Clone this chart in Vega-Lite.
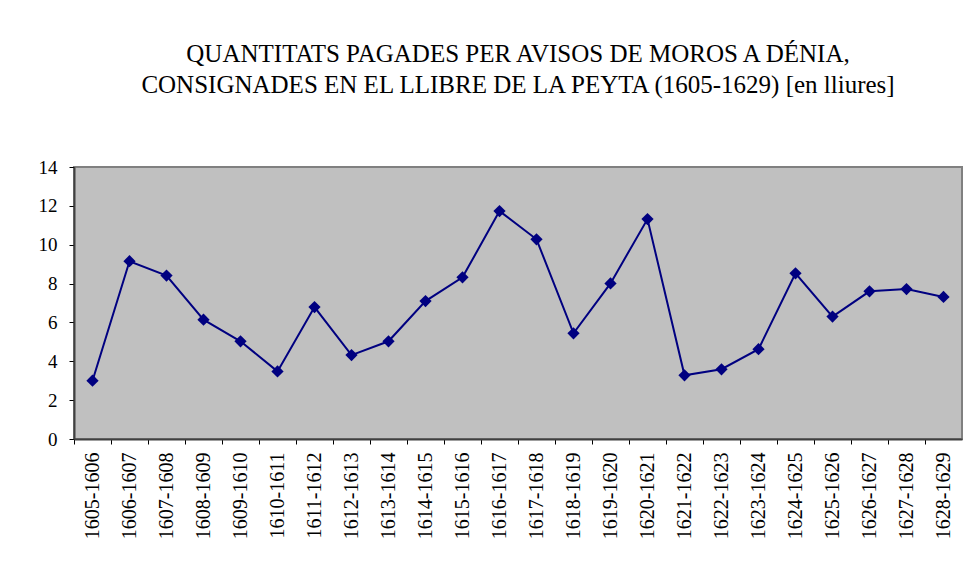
{
  "$schema": "https://vega.github.io/schema/vega-lite/v6.json",
  "width": 888,
  "height": 272,
  "autosize": {"type": "none"},
  "padding": {"left": 74, "top": 167, "right": 6, "bottom": 137},
  "background": "white",
  "title": {
    "text": ["QUANTITATS PAGADES PER AVISOS DE MOROS A DÉNIA,", "CONSIGNADES EN EL LLIBRE DE LA PEYTA (1605-1629) [en lliures]"],
    "font": "Liberation Serif",
    "fontSize": 25,
    "fontWeight": "normal",
    "color": "black",
    "lineHeight": 31,
    "anchor": "middle",
    "baseline": "bottom",
    "offset": 35
  },
  "data": {
    "values": [
      {"period": "1605-1606", "value": 3.0},
      {"period": "1606-1607", "value": 9.15},
      {"period": "1607-1608", "value": 8.41},
      {"period": "1608-1609", "value": 6.14},
      {"period": "1609-1610", "value": 5.03},
      {"period": "1610-1611", "value": 3.48},
      {"period": "1611-1612", "value": 6.79},
      {"period": "1612-1613", "value": 4.32},
      {"period": "1613-1614", "value": 5.03},
      {"period": "1614-1615", "value": 7.1},
      {"period": "1615-1616", "value": 8.32},
      {"period": "1616-1617", "value": 11.73},
      {"period": "1617-1618", "value": 10.28},
      {"period": "1618-1619", "value": 5.44},
      {"period": "1619-1620", "value": 8.01},
      {"period": "1620-1621", "value": 11.32},
      {"period": "1621-1622", "value": 3.28},
      {"period": "1622-1623", "value": 3.59},
      {"period": "1623-1624", "value": 4.62},
      {"period": "1624-1625", "value": 8.53},
      {"period": "1625-1626", "value": 6.3},
      {"period": "1626-1627", "value": 7.6},
      {"period": "1627-1628", "value": 7.72},
      {"period": "1628-1629", "value": 7.31}
    ]
  },
  "encoding": {
    "x": {
      "field": "period",
      "type": "ordinal",
      "sort": null,
      "scale": {"type": "band", "paddingInner": 0, "paddingOuter": 0},
      "axis": {
        "title": null,
        "labelAngle": -90,
        "labelFont": "Liberation Serif",
        "labelFontSize": 20,
        "labelColor": "black",
        "labelPadding": 8,
        "bandPosition": 0,
        "domainColor": "#404040",
        "domainWidth": 2,
        "tickColor": "black",
        "tickSize": 5,
        "grid": false
      }
    },
    "y": {
      "field": "value",
      "type": "quantitative",
      "scale": {"domain": [0, 14], "nice": false},
      "axis": {
        "title": null,
        "values": [0, 2, 4, 6, 8, 10, 12, 14],
        "labelFont": "Liberation Serif",
        "labelFontSize": 19,
        "labelColor": "black",
        "labelPadding": 12,
        "domainColor": "#404040",
        "domainWidth": 2,
        "tickColor": "black",
        "tickSize": 5,
        "grid": false
      }
    }
  },
  "layer": [
    {"mark": {"type": "line", "color": "#000080", "strokeWidth": 2}},
    {"mark": {"type": "point", "shape": "diamond", "filled": true, "color": "#000080", "size": 150, "opacity": 1}}
  ],
  "config": {
    "view": {"fill": "#C0C0C0", "stroke": "#808080", "strokeWidth": 2},
    "font": "Liberation Serif",
    "title": {"font": "Liberation Serif", "fontWeight": "normal"}
  }
}
